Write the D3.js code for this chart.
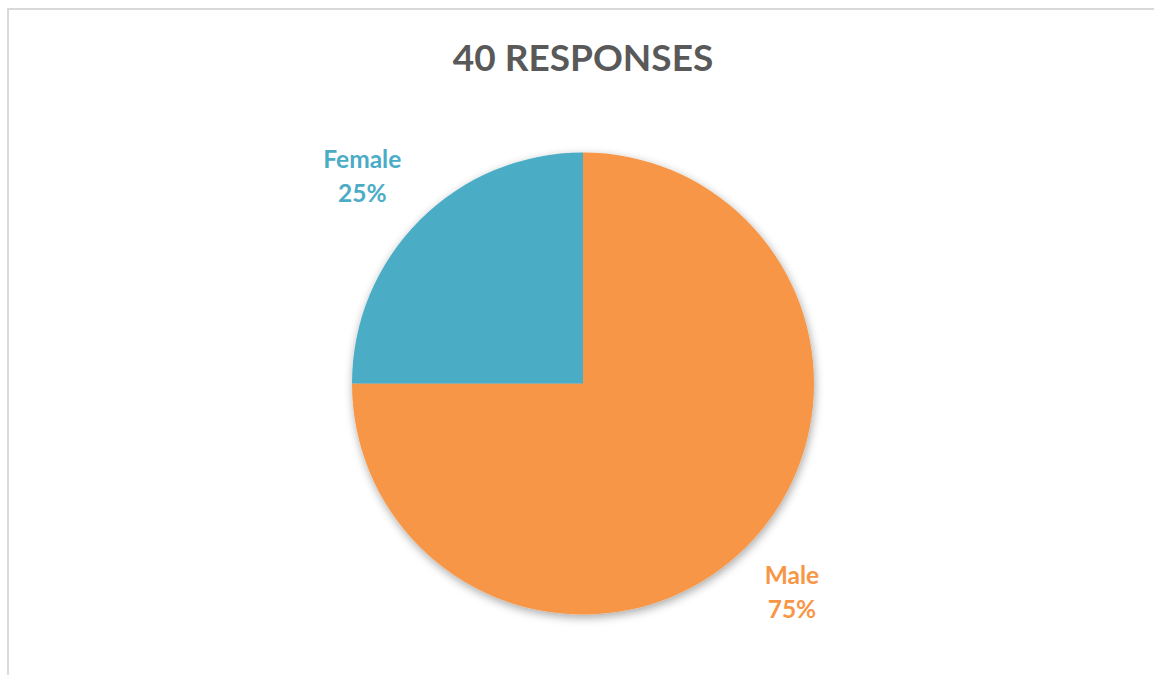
<!DOCTYPE html>
<html>
<head>
<meta charset="utf-8">
<script src="https://cdn.jsdelivr.net/npm/d3@7"></script>
<style>
  html, body { margin: 0; padding: 0; background: #fff; }
  svg { display: block; }
</style>
</head>
<body>
<svg id="chart" width="1154" height="675"></svg>
<script>
// Survey responses by gender
const title = "40 RESPONSES";
const categories = ["Male", "Female"];
const shares = [75, 25];
const colors = ["#F79646", "#4BACC6"];

const W = 1154, H = 675;
const cx = 583, cy = 383.5, radius = 231, labelGap = 26;
const font = "Lato, 'Open Sans', sans-serif";

const svg = d3.select("#chart");

// chart area frame (top and left edges visible)
svg.append("rect")
  .attr("x", 8).attr("y", 9)
  .attr("width", W + 20).attr("height", H + 20)
  .attr("fill", "#fff")
  .attr("stroke", "#d9d9d9").attr("stroke-width", 2);

// soft drop shadow under the pie
const defs = svg.append("defs");
const f = defs.append("filter").attr("id", "shadow")
  .attr("x", "-20%").attr("y", "-20%").attr("width", "140%").attr("height", "140%");
f.append("feGaussianBlur").attr("in", "SourceAlpha").attr("stdDeviation", 5).attr("result", "blur");
f.append("feOffset").attr("in", "blur").attr("dx", 1).attr("dy", 3).attr("result", "off");
f.append("feComponentTransfer").attr("in", "off").attr("result", "soft")
  .append("feFuncA").attr("type", "linear").attr("slope", 0.35);
const merge = f.append("feMerge");
merge.append("feMergeNode").attr("in", "soft");
merge.append("feMergeNode").attr("in", "SourceGraphic");

svg.append("text")
  .attr("x", cx).attr("y", 71)
  .attr("text-anchor", "middle")
  .attr("font-family", font)
  .attr("font-weight", "bold")
  .attr("font-size", 37)
  .attr("fill", "#595959")
  .text(title);

const data = categories.map((c, i) => ({ name: c, value: shares[i], color: colors[i] }));

const pie = d3.pie().value(d => d.value).sort(null);
const arc = d3.arc().innerRadius(0).outerRadius(radius);
const edgeArc = d3.arc().innerRadius(radius + labelGap).outerRadius(radius + labelGap);

const g = svg.append("g").attr("transform", `translate(${cx},${cy})`);
const arcs = pie(data);

g.append("g").attr("filter", "url(#shadow)")
  .selectAll("path")
  .data(arcs)
  .join("path")
  .attr("d", arc)
  .attr("fill", d => d.data.color);

const pct = d3.format(".0%");
const total = d3.sum(shares);

// outside-end labels: the label box corner nearest the pie sits just off the rim
g.selectAll("g.lbl")
  .data(arcs)
  .join("g")
  .attr("class", "lbl")
  .each(function (d) {
    const grp = d3.select(this);
    const t = grp.append("text")
      .attr("text-anchor", "middle")
      .attr("font-family", font)
      .attr("font-weight", "bold")
      .attr("font-size", 24.5)
      .attr("fill", d.data.color);
    t.append("tspan").attr("x", 0).attr("y", 0).text(d.data.name);
    t.append("tspan").attr("x", 0).attr("y", 34).text(pct(d.data.value / total));
    const bb = t.node().getBBox();
    // trim font ascent/descent padding so the glyphs themselves hug the corner
    const top = bb.y + 5, bottom = bb.y + bb.height - 5;
    const [px, py] = edgeArc.centroid(d);
    const tx = px < 0 ? px - (bb.x + bb.width) : px - bb.x;
    const ty = py < 0 ? py - bottom : py - top;
    grp.attr("transform", `translate(${tx},${ty})`);
  });
</script>
</body>
</html>
